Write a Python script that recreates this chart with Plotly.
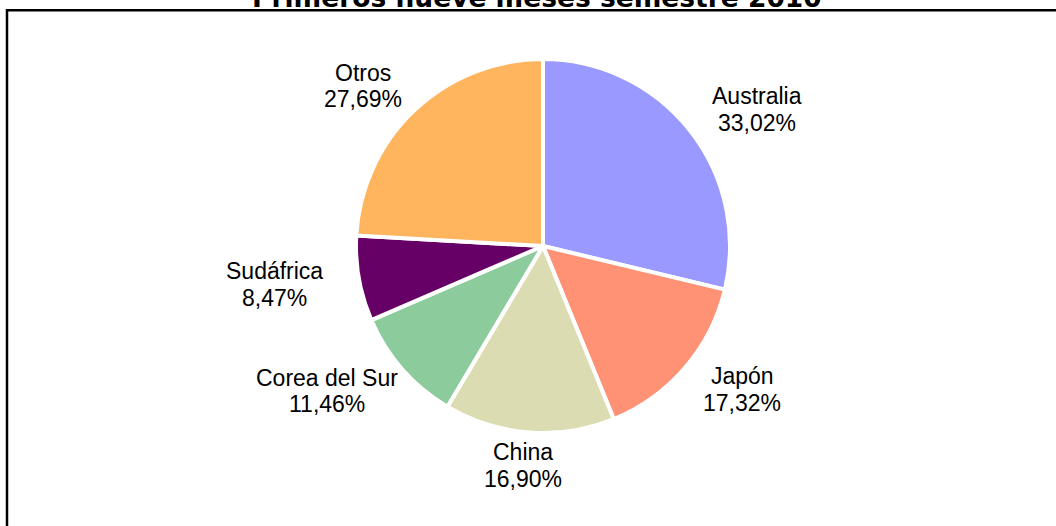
import math
import plotly.graph_objects as go

# Data
labels = ["Australia", "Japón", "China", "Corea del Sur", "Sudáfrica", "Otros"]
values = [33.02, 17.32, 16.90, 11.46, 8.47, 27.69]
colors = ["#9999FF", "#FF9274", "#DCDCB2", "#8CCB9C", "#660066", "#FFB45E"]
title_text = "Primeros nueve meses semestre 2010"

W, H = 1056, 526
CX, CY, R = 543, 246, 187  # pie centre / radius in pixels
LR, LB = 242, 220          # label placement: horizontal base radius, vertical radius
LINE_GAP = 26.6            # distance between the two text lines of a label
CHAR_W = 11.5              # rough text width per character

fig = go.Figure()
fig.add_trace(go.Pie(
    labels=labels,
    values=values,
    sort=False,
    direction="clockwise",
    rotation=0,
    textinfo="none",
    hoverinfo="label+value",
    marker=dict(colors=colors, line=dict(color="white", width=4)),
    domain=dict(x=[(CX - R) / W, (CX + R) / W],
                y=[(H - CY - R) / H, (H - CY + R) / H]),
    showlegend=False,
))

label_font = dict(family="Liberation Sans, Arial, sans-serif", size=23, color="black")

# Labels placed around each slice's mid-angle
total = sum(values)
cum = 0.0
annotations = []
for lab, v in zip(labels, values):
    mid = (cum + v / 2) / total * 2 * math.pi
    cum += v
    pct = f"{v:.2f}".replace(".", ",") + "%"
    w = CHAR_W * max(len(lab), len(pct))
    px = CX + math.sin(mid) * (LR + 0.3 * w)
    py = CY - LB * math.cos(mid)
    for txt, off in ((lab, -LINE_GAP / 2), (pct, LINE_GAP / 2)):
        annotations.append(dict(
            x=px / W, y=1 - (py + off) / H, xref="paper", yref="paper",
            text=txt, showarrow=False, xanchor="center", yanchor="middle",
            font=label_font,
        ))

annotations.append(dict(
    x=537 / W, y=1 + 3 / H, xref="paper", yref="paper",
    text=f"<b>{title_text}</b>", showarrow=False,
    xanchor="center", yanchor="middle",
    font=dict(family="DejaVu Sans, Verdana, sans-serif", size=26.5, color="black"),
))

fig.update_layout(
    width=W, height=H,
    margin=dict(l=0, r=0, t=0, b=0),
    paper_bgcolor="white",
    plot_bgcolor="white",
    annotations=annotations,
    shapes=[dict(type="rect", xref="paper", yref="paper",
                 x0=7 / W, x1=1.2, y0=-0.2, y1=1 - 10.3 / H,
                 line=dict(color="black", width=2.5), fillcolor="rgba(0,0,0,0)")],
)

fig.write_html("out.html", config={"displayModeBar": False},
               post_script="document.body.style.margin='0px';")
